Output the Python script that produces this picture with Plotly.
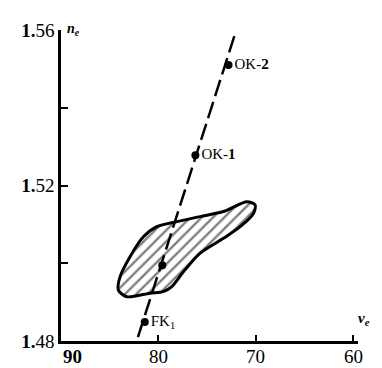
import plotly.graph_objects as go

# Abbe number (nu_e) and refractive index (n_e) of the labelled glasses
glass_names = ["OK-<b>2</b>", "OK-<b>1</b>", "FK<sub>1</sub>"]
glass_nu = [72.8, 76.2, 81.4]
glass_n = [1.551, 1.5278, 1.4849]

# Unlabelled glass inside the hatched region
inner_nu = [79.6]
inner_n = [1.4995]

# Trend line through the glass points
trend_nu = [82.1, 72.1]
trend_n = [1.481, 1.5592]

# Outline of the hatched region
region_nu = [78.11, 75.71, 73.32, 70.91, 70.06, 70.24, 71.60, 73.32, 75.71,
             77.43, 78.62, 79.49, 80.85, 83.25, 84.11, 83.94, 82.91, 81.54,
             80.16, 78.11]
region_n = [1.5107, 1.5120, 1.5133, 1.5158, 1.5150, 1.5128, 1.5094, 1.5064,
            1.5026, 1.4978, 1.4940, 1.4927, 1.4923, 1.4914, 1.4931, 1.4965,
            1.5017, 1.5068, 1.5094, 1.5107]

# Axis ticks
x_ticks = [90, 80, 70, 60]
x_tick_text = ["<b>90</b>", "80", "70", "60"]
y_ticks = [1.48, 1.52, 1.56]
y_tick_text = ["<b>1.</b>48", "<b>1.</b>52", "<b>1.</b>56"]

serif = "Liberation Serif, Times New Roman, serif"

fig = go.Figure()

fig.add_trace(go.Scatter(
    x=region_nu, y=region_n, mode="lines",
    line=dict(color="black", width=3, shape="spline", smoothing=0.8),
    fill="toself", fillcolor="white",
    fillpattern=dict(shape="/", size=8, solidity=0.3,
                     fgcolor="black", bgcolor="white"),
    hoverinfo="skip", showlegend=False,
))

fig.add_trace(go.Scatter(
    x=trend_nu, y=trend_n, mode="lines",
    line=dict(color="black", width=2.5, dash="17px,6px"),
    hoverinfo="skip", showlegend=False,
))

fig.add_trace(go.Scatter(
    x=glass_nu, y=glass_n, mode="markers+text",
    marker=dict(color="black", size=8),
    text=glass_names, textposition="middle right",
    textfont=dict(family=serif, size=15, color="black"),
    showlegend=False,
))

fig.add_trace(go.Scatter(
    x=inner_nu, y=inner_n, mode="markers",
    marker=dict(color="black", size=8),
    showlegend=False,
))

# x tick labels, the first one nudged clear of the y axis
for v, t in zip(x_ticks, x_tick_text):
    fig.add_annotation(
        x=v, y=0, xref="x", yref="paper", text=t, showarrow=False,
        yanchor="top", yshift=-3, xshift=11 if v == 90 else 0,
        font=dict(family=serif, size=19, color="black"),
    )

fig.add_annotation(
    x=0.013, y=1.035, xref="paper", yref="paper",
    text="<b><i>n<sub>e</sub></i></b>", showarrow=False,
    font=dict(family=serif, size=14, color="black"),
)
fig.add_annotation(
    x=1.047, y=0.035, xref="paper", yref="paper",
    text="<b><i>ν<sub>e</sub></i></b>", showarrow=False,
    font=dict(family=serif, size=15, color="black"),
)

fig.update_xaxes(
    range=[90, 59.5], tickvals=x_ticks, showticklabels=False,
    ticks="inside", ticklen=6, tickwidth=2, tickcolor="black",
    showline=True, linecolor="black", linewidth=2.5,
    showgrid=False, zeroline=False,
)
fig.update_yaxes(
    range=[1.48, 1.56], tickvals=y_ticks, ticktext=y_tick_text,
    ticks="inside", ticklen=7, tickwidth=2, tickcolor="black",
    tickfont=dict(family=serif, size=19, color="black"),
    minor=dict(tickvals=[1.50, 1.54], ticks="inside", ticklen=7,
               tickwidth=2, tickcolor="black", showgrid=False),
    showline=True, linecolor="black", linewidth=2.5,
    showgrid=False, zeroline=False,
)

fig.update_layout(
    width=382, height=368,
    margin=dict(l=61, r=24, t=30, b=27, autoexpand=False),
    paper_bgcolor="white", plot_bgcolor="white",
)

fig.write_html("out.html")
